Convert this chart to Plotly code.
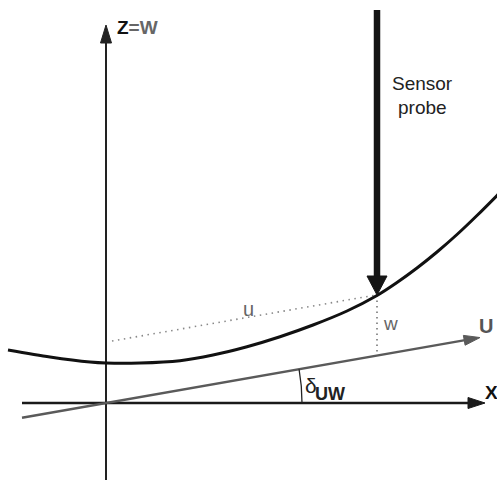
import numpy as np
import plotly.graph_objects as go

# Coordinate system: origin at the intersection of the X and Z axes (1 unit ~ 1 px)
X_RANGE = [-106, 391]
Z_RANGE = [-83, 403]

# Measured surface curve (x, z)
curve_x = [-98, -56, -16, 0, 34, 74, 107, 141, 174, 207, 241, 271, 291, 311, 331, 351, 371, 391, 411]
curve_z = [53, 46, 41, 40, 40, 42.3, 48, 56.3, 66.3, 78, 92, 107.5, 120.5, 135, 151, 168.5, 187.5, 207.5, 228]

# Axes
z_axis_bottom, z_axis_tip = -77, 378
x_axis_left, x_axis_tip = -84, 379
u_slope = 0.175
u_left, u_tip_x = -84, 374

# Sensor probe
probe_x = 271
probe_top, probe_tip = 393, 108

# Measurement guides
u_guide_x = [6, 270]
u_guide_z = [62, 108]
w_guide_x = [271, 271]
w_guide_z = [108, 50]

# Angle arc
arc_radius = 196

fig = go.Figure()

def line(xs, zs, color, width, dash=None):
    fig.add_trace(go.Scatter(x=xs, y=zs, mode="lines", hoverinfo="skip",
                             line=dict(color=color, width=width, dash=dash)))

def head(tip, direction, length, half, color):
    tx, tz = tip
    dx, dz = direction
    n = np.hypot(dx, dz)
    dx, dz = dx / n, dz / n
    bx, bz = tx - dx * length, tz - dz * length
    px, pz = -dz, dx
    xs = [tx, bx + px * half, bx - px * half, tx]
    zs = [tz, bz + pz * half, bz - pz * half, tz]
    fig.add_trace(go.Scatter(x=xs, y=zs, mode="lines", fill="toself", fillcolor=color,
                             line=dict(color=color, width=1), hoverinfo="skip"))

# Z axis
line([0, 0], [z_axis_bottom, z_axis_tip - 15], "#222222", 2)
head((0, z_axis_tip), (0, 1), 18, 5.5, "#222222")
# X axis
line([x_axis_left, x_axis_tip - 14], [0, 0], "#1a1a1a", 2.6)
head((x_axis_tip, 0), (1, 0), 17, 5.5, "#1a1a1a")
# U axis
u_end = u_tip_x - 12
line([u_left, u_end], [u_slope * u_left, u_slope * u_end], "#5a5a5a", 2.4)
head((u_tip_x, u_slope * u_tip_x), (1, u_slope), 16, 5, "#5a5a5a")

# Guides
line(u_guide_x, u_guide_z, "#888888", 1.6, "1.5px,4.5px")
line(w_guide_x, w_guide_z, "#777777", 1.6, "1.5px,4px")

# Curve
fig.add_trace(go.Scatter(x=curve_x, y=curve_z, mode="lines", hoverinfo="skip",
                         line=dict(color="#111111", width=3, shape="spline", smoothing=0.8)))

# Probe
line([probe_x, probe_x], [probe_top, probe_tip + 15], "#151515", 6.5)
head((probe_x, probe_tip), (0, -1), 19, 10, "#151515")

# Angle arc
ang = np.linspace(0, np.arctan(u_slope), 30)
line(arc_radius * np.cos(ang), arc_radius * np.sin(ang), "#222222", 1.3)

FONT = "Liberation Sans, Arial, Helvetica, sans-serif"

def text(x, z, s, size, color, xanchor="center", yanchor="middle"):
    fig.add_annotation(x=x, y=z, text=s, showarrow=False, xanchor=xanchor, yanchor=yanchor,
                       font=dict(family=FONT, size=size, color=color))

text(9, 376, "<b>Z<span style='color:#666666'>=W</span></b>", 19, "#111111", xanchor="left")
text(316, 320, "Sensor", 19, "#222222")
text(316, 296, "probe", 19, "#222222")
text(142, 94, "u", 20, "#666666")
text(284, 80, "w", 19, "#666666")
text(380, 77, "<b>U</b>", 20, "#555555")
text(385, 11, "<b>X</b>", 19, "#111111")
text(205, 18, "δ", 21, "#222222")
text(224, 9, "<b>UW</b>", 18, "#222222")

fig.update_layout(
    width=497, height=486, margin=dict(l=0, r=0, t=0, b=0),
    paper_bgcolor="white", plot_bgcolor="white", showlegend=False,
    xaxis=dict(range=X_RANGE, visible=False, fixedrange=True),
    yaxis=dict(range=Z_RANGE, visible=False, fixedrange=True),
)
fig.write_html("out.html")
